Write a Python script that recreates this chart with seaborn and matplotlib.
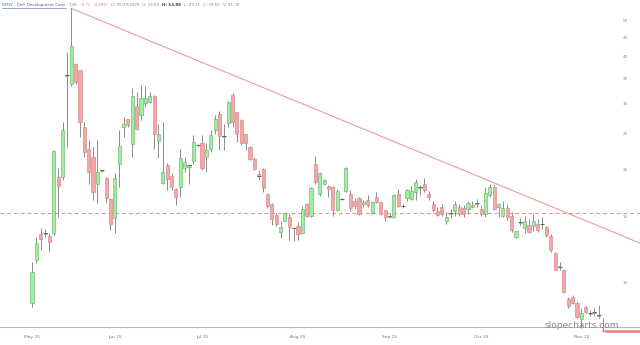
import numpy as np
import pandas as pd
import matplotlib
matplotlib.use("Agg")
import matplotlib.pyplot as plt
import matplotlib.transforms as mtransforms
import seaborn as sns

# ---------------- data ----------------
start_date = "2025-05-05"
holidays = ["2025-05-26", "2025-06-19", "2025-07-04", "2025-09-01"]

opens = [8.83, 11.52, 13.51, 13.50, 13.34, 13.56, 19.20, 19.20, 35.70, 34.00,
         38.26, 36.95, 26.10, 22.70, 21.60, 18.40, 19.85, 19.10, 16.70, 14.87,
         20.80, 26.00, 27.30, 23.50, 29.60, 28.00, 30.10, 30.40, 31.50, 23.90,
         18.50, 20.60, 19.30, 17.80, 18.05, 20.30, 20.40, 21.10, 23.25, 23.60,
         21.70, 22.80, 25.60, 28.15, 24.55, 26.70, 31.70, 28.50, 27.20, 24.90,
         23.10, 21.40, 19.50, 20.10, 17.30, 16.20, 15.20, 13.70, 14.65, 14.96,
         14.00, 14.20, 13.56, 16.20, 15.10, 20.75, 17.30, 18.35, 18.10, 18.05,
         15.65, 16.70, 17.60, 17.30, 16.50, 16.80, 16.20, 16.60, 15.40, 16.90,
         16.40, 15.65, 15.00, 15.00, 17.30, 16.00, 16.80, 16.70, 17.50, 17.95,
         18.35, 17.30, 16.20, 15.55, 15.90, 14.65, 15.30, 15.60, 15.90, 15.80,
         15.70, 16.10, 16.25, 15.70, 15.30, 17.20, 18.05, 15.90, 15.10, 15.80,
         15.10, 13.28, 14.45, 14.00, 14.30, 14.20, 14.40, 14.35, 14.10, 13.34,
         12.00, 11.10, 10.83, 9.05, 9.20, 8.83, 8.00, 8.61, 8.28, 8.33,
         8.18, 7.50]
highs = [11.40, 13.28, 13.99, 13.90, 13.59, 22.60, 20.25, 26.90, 41.30, 53.90,
         38.50, 37.00, 26.90, 24.00, 23.10, 24.00, 20.10, 19.20, 16.80, 19.60,
         25.60, 27.70, 27.40, 33.00, 32.30, 33.70, 33.40, 32.30, 31.70, 26.60,
         26.90, 20.90, 19.60, 17.90, 22.80, 21.70, 20.60, 24.80, 23.50, 24.80,
         23.60, 25.60, 28.00, 28.80, 26.60, 30.60, 32.00, 28.60, 27.40, 25.00,
         23.20, 21.60, 20.00, 20.20, 17.40, 16.30, 15.40, 14.60, 15.50, 15.30,
         14.10, 14.50, 16.00, 16.30, 18.05, 21.80, 19.70, 18.90, 18.20, 18.10,
         17.80, 16.80, 20.40, 17.70, 16.80, 17.00, 16.60, 17.20, 16.50, 17.50,
         16.50, 15.65, 15.40, 17.30, 17.80, 16.20, 17.80, 18.10, 18.90, 18.20,
         19.00, 17.60, 16.50, 15.90, 16.20, 15.50, 15.70, 16.50, 16.20, 16.10,
         16.50, 16.50, 16.70, 16.10, 18.05, 18.40, 18.35, 16.30, 16.50, 16.20,
         15.50, 13.80, 14.90, 15.10, 14.80, 15.30, 14.80, 15.00, 14.20, 13.50,
         12.10, 11.40, 10.90, 9.15, 9.30, 8.95, 8.56, 8.70, 8.45, 8.60,
         8.75, 8.05]
lows = [8.65, 11.28, 12.24, 13.30, 12.12, 13.40, 15.02, 18.81, 23.08, 33.50,
        33.80, 24.50, 21.70, 18.40, 16.64, 16.30, 19.70, 16.30, 13.85, 13.60,
        18.05, 24.50, 26.10, 21.70, 25.60, 27.20, 29.50, 30.10, 22.80, 21.50,
        18.40, 17.70, 17.70, 16.10, 17.00, 19.80, 18.40, 20.80, 23.10, 20.00,
        19.80, 22.40, 25.00, 22.60, 22.60, 26.10, 26.10, 23.80, 23.30, 22.60,
        21.30, 20.00, 18.80, 17.50, 15.80, 14.30, 14.20, 13.15, 14.60, 13.00,
        12.90, 13.00, 13.50, 15.00, 15.00, 18.40, 17.10, 18.20, 16.90, 15.10,
        15.60, 16.60, 17.50, 15.60, 15.70, 15.20, 15.90, 15.90, 15.30, 16.30,
        15.20, 14.60, 14.90, 14.90, 15.90, 15.80, 16.50, 16.60, 16.60, 17.20,
        17.50, 16.60, 15.50, 15.10, 15.10, 14.40, 14.90, 15.10, 15.10, 15.00,
        15.30, 15.80, 15.90, 15.10, 15.00, 16.90, 15.65, 15.00, 15.00, 14.70,
        13.70, 13.15, 14.30, 13.60, 13.60, 13.80, 13.70, 13.90, 13.30, 12.10,
        10.80, 10.85, 9.42, 8.60, 8.80, 8.05, 7.57, 8.30, 8.15, 8.20,
        8.05, 7.42]
closes = [10.72, 12.76, 13.07, 13.60, 12.88, 22.47, 18.16, 25.57, 35.90, 42.80,
          34.40, 26.90, 22.38, 19.80, 17.50, 19.70, 19.95, 16.80, 14.36, 19.00,
          23.20, 26.50, 26.30, 31.50, 25.80, 31.05, 31.20, 31.50, 24.90, 24.90,
          19.70, 18.90, 18.00, 16.90, 21.50, 21.00, 20.60, 23.80, 23.35, 20.30,
          22.60, 24.80, 27.30, 24.60, 24.65, 30.40, 26.90, 24.90, 23.60, 23.60,
          21.40, 20.10, 19.30, 17.95, 16.00, 14.80, 14.40, 14.10, 15.40, 14.10,
          14.05, 13.50, 15.70, 15.10, 17.90, 18.60, 19.60, 18.80, 17.80, 15.65,
          17.60, 16.75, 20.30, 15.80, 16.00, 15.30, 16.40, 16.10, 16.45, 16.45,
          15.30, 14.96, 15.05, 17.20, 16.00, 16.05, 17.70, 17.60, 18.60, 18.05,
          17.70, 16.90, 15.65, 15.20, 15.30, 14.96, 15.40, 16.20, 15.30, 15.25,
          16.30, 15.90, 16.35, 15.30, 17.40, 18.00, 15.70, 16.20, 15.80, 15.00,
          13.85, 13.75, 14.50, 14.60, 13.70, 14.65, 13.85, 14.40, 13.40, 12.24,
          10.83, 11.05, 9.48, 8.68, 8.83, 8.13, 8.33, 8.38, 8.32, 8.36,
          8.20, 7.46]

price_ticks = [10, 15, 20, 25, 30, 35, 40, 45, 50]
month_labels = ["May 25", "Jun 25", "Jul 25", "Aug 25", "Sep 25", "Oct 25", "Nov 25"]

header_parts = ["DFDV - DeFi Development Corp.", "7.46", "-0.71", "-8.69%",
                "D: 05/29/2025", "O: 33.69", "H: 53.88", "L: 29.15",
                "C: 39.66", "V: 31.38"]

support_level = 15.35
last_price = 7.46
trend_start = (9, 53.9)
trend_end = (139.4, 12.78)

# ---------------- frame ----------------
dates = pd.bdate_range(start=start_date, periods=len(opens) + 10, freq="C",
                       holidays=holidays)[:len(opens)]
df = pd.DataFrame({"date": dates, "open": opens, "high": highs,
                   "low": lows, "close": closes})
df["idx"] = np.arange(len(df))
df["up"] = df["close"] >= df["open"]

first_of_month = df.groupby(df["date"].dt.to_period("M"))["idx"].min().values

sns.set_theme(style="white")
plt.rcParams["font.family"] = ["DejaVu Sans"]

W, H = 640, 345
fig = plt.figure(figsize=(W / 100, H / 100), dpi=100)
ax_top_px, ax_bot_px = 3, 327
ax = fig.add_axes([0, 1 - ax_bot_px / H, 1, (ax_bot_px - ax_top_px) / H])
ax.set_yscale("log")
x0_px, step_px = 32, 4.36
ax.set_xlim(-x0_px / step_px, (W - x0_px) / step_px)
ax.set_ylim(10 * np.exp((283 - ax_bot_px) / 163), 10 * np.exp((283 - ax_top_px) / 163))

# support dashed line and trendline (beneath candles)
ax.axhline(support_level, color="#e8907e", lw=0.75, ls=(0, (3.5, 3)), zorder=1)
trend = pd.DataFrame({"x": [trend_start[0], trend_end[0]],
                      "y": [trend_start[1], trend_end[1]]})
sns.lineplot(data=trend, x="x", y="y", ax=ax, color="#ee9a9a", lw=0.8,
             zorder=1, legend=False)

# candles
wick_c = "#7a7a7a"
ax.vlines(df["idx"], df["low"], df["high"], color=wick_c, lw=0.6, zorder=2,
          clip_on=False)
body_lo = np.minimum(df["open"], df["close"])
body_hi = np.maximum(df["open"], df["close"])
colors = np.where(df["up"], "#9cef9c", "#f4a7a7")
edges = np.where(df["up"], "#6aa66a", "#cc7f7f")
ax.bar(df["idx"], body_hi - body_lo, bottom=body_lo, width=0.72,
       color=colors, edgecolor=edges, linewidth=0.4, zorder=3, clip_on=False)
doji = (body_hi / body_lo) < 1.012
ax.hlines(df.loc[doji, "close"], df.loc[doji, "idx"] - 0.45,
          df.loc[doji, "idx"] + 0.45, color="#555555", lw=0.6, zorder=4)

# last price line
ax.plot([len(df) - 0.5, ax.get_xlim()[1]], [last_price, last_price],
        color="#f07b7b", lw=1.8, zorder=2, clip_on=False, solid_capstyle="butt")

# axes cosmetics
for s in ["top", "left", "right"]:
    ax.spines[s].set_visible(False)
ax.spines["bottom"].set_color("#bbbbbb")
ax.spines["bottom"].set_linewidth(0.8)
ax.set_yticks([])
ax.minorticks_off()
ax.set_xlabel("")
ax.set_ylabel("")
ax.set_xticks(first_of_month)
ax.set_xticklabels(month_labels[:len(first_of_month)], fontsize=3.2, color="#777777")
ax.tick_params(axis="x", length=0, pad=6)
ax.grid(False)

ytrans = mtransforms.blended_transform_factory(ax.transAxes, ax.transData)
for p in price_ticks:
    ax.text(625 / W, p, f"{p}", transform=ytrans, fontsize=3.0,
            color="#8888aa", ha="center", va="center")

# header (texts chained left to right)
hy = 1 - 5 / H
styles = [("#4a5aa8", "normal"), ("#888888", "normal"), ("#e08080", "normal"),
          ("#e08080", "normal"), ("#888888", "normal"), ("#888888", "normal"),
          ("#444444", "bold"), ("#888888", "normal"), ("#888888", "normal"),
          ("#888888", "normal")]
fig.canvas.draw()
renderer = fig.canvas.get_renderer()
xpos = 2.0
for i, (t, (c, w)) in enumerate(zip(header_parts, styles)):
    txt = fig.text(xpos / W, hy, t, fontsize=2.9, color=c, fontweight=w,
                   ha="left", va="center")
    bb = txt.get_window_extent(renderer=renderer)
    if i == 0:
        fig.add_artist(plt.Line2D([bb.x0 / W, bb.x1 / W], [1 - 8 / H, 1 - 8 / H],
                                  color="#4a5aa8", lw=0.4))
    xpos = bb.x1 + 3.0

fig.text(582 / W, 1 - 325 / H, "slopecharts.com", fontsize=6.5,
         color="#8a8a8a", ha="center", va="center")

fig.savefig("out.png", dpi=100)
